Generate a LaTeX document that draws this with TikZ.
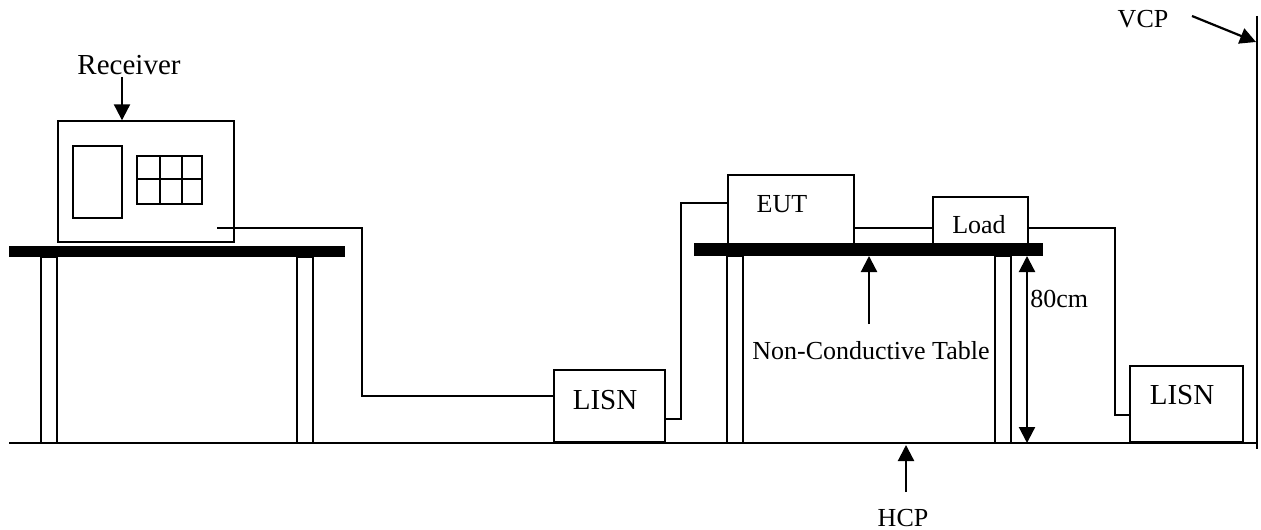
\documentclass[tikz,border=0pt]{standalone}
\usepackage{fontspec}
\setmainfont{Liberation Serif}
\usetikzlibrary{arrows.meta, calc}
\tikzset{thin line/.style = {line width = 0.85pt}}
\tikzset{box/.style = {draw, line width = 0.85pt, inner sep = 0pt, anchor = south west}}
\tikzset{pointer/.style = {line width = 1.1pt, -{Triangle[width = 8pt, length = 8pt]}}}
\tikzset{lbl/.style = {font = \fontsize{13}{15}\selectfont, anchor = base, inner sep = 0pt}}
\tikzset{biglbl/.style = {lbl, font = \fontsize{14.5}{16}\selectfont}}

\begin{document}
\begin{tikzpicture}[x = 0.5pt, y = -0.5pt]
\useasboundingbox (0,0) rectangle (1261,529);
\coordinate (hcp west) at (9,443);
\coordinate (hcp east) at (1257,443);
\coordinate (vcp top) at (1257,16);
\coordinate (vcp bottom) at (1257,449);
\draw[thin line] (hcp west) -- (hcp east);
\draw[thin line] (vcp top) -- (vcp bottom);
\fill (9,246) rectangle (345,257);
\fill (694,243) rectangle (1043,256);
\foreach \lx in {41,297} \draw[thin line] (\lx,257) rectangle (\lx+16,443);
\foreach \lx in {727,995} \draw[thin line] (\lx,256) rectangle (\lx+16,443);
\node[box, minimum width = 88pt, minimum height = 60.5pt] (receiver) at (57,243) {};
\draw[thin line] (73,146) rectangle (122,218);
\draw[thin line] (137,156) rectangle (202,204) (137,179) -- (202,179);
\foreach \gx in {160,182} \draw[thin line] (\gx,156) -- (\gx,204);
\node[box, minimum width = 63pt, minimum height = 35.5pt] (eut) at (727,247) {};
\node[box, minimum width = 47.5pt, minimum height = 24pt] (load) at (932,246) {};
\node[box, minimum width = 55.5pt, minimum height = 36pt] (lisnA) at (553,443) {};
\node[box, minimum width = 56.5pt, minimum height = 38pt] (lisnB) at (1129,443) {};
\node[biglbl] (receiver text) at (129,75) {Receiver};
\node[lbl] (vcp text) at (1143,28) {VCP};
\node[lbl] (eut text) at (782,213) {EUT};
\node[lbl] (load text) at (979,233) {Load};
\node[biglbl] (lisnA text) at (605,409) {LISN};
\node[biglbl] (lisnB text) at (1182,404) {LISN};
\node[lbl] (table text) at (871,359) {Non-Conductive Table};
\node[lbl, anchor = base west] (height text) at (1030,307) {80cm};
\node[lbl] (hcp text) at (903,526) {HCP};
\coordinate (rx out) at (217,228);
\draw[thin line] (rx out) -| (362,396) -- ($(lisnA.south west)+(0,-47)$);
\draw[thin line] ($(lisnA.south east)+(0,-24)$) -- ++(15,0) |- ($(eut.south west)+(0,-44)$);
\draw[thin line] ($(eut.south east)+(0,-19)$) -- ($(load.south west)+(0,-18)$);
\draw[thin line] ($(load.south east)+(0,-18)$) -- ++(86,0) |- ($(lisnB.south west)+(0,-28)$);
\draw[pointer] (122,77) -- ($(receiver.north west)+(65,0)$);
\draw[pointer] (869,324) -- (869,256);
\draw[pointer, {Triangle[width = 8pt, length = 8pt]}-{Triangle[width = 8pt, length = 8pt]}] (1027,256) -- (1027,443);
\draw[pointer] (906,492) -- (906,445);
\draw[pointer] (1192,16) -- (1256,42);
\end{tikzpicture}
\end{document}
